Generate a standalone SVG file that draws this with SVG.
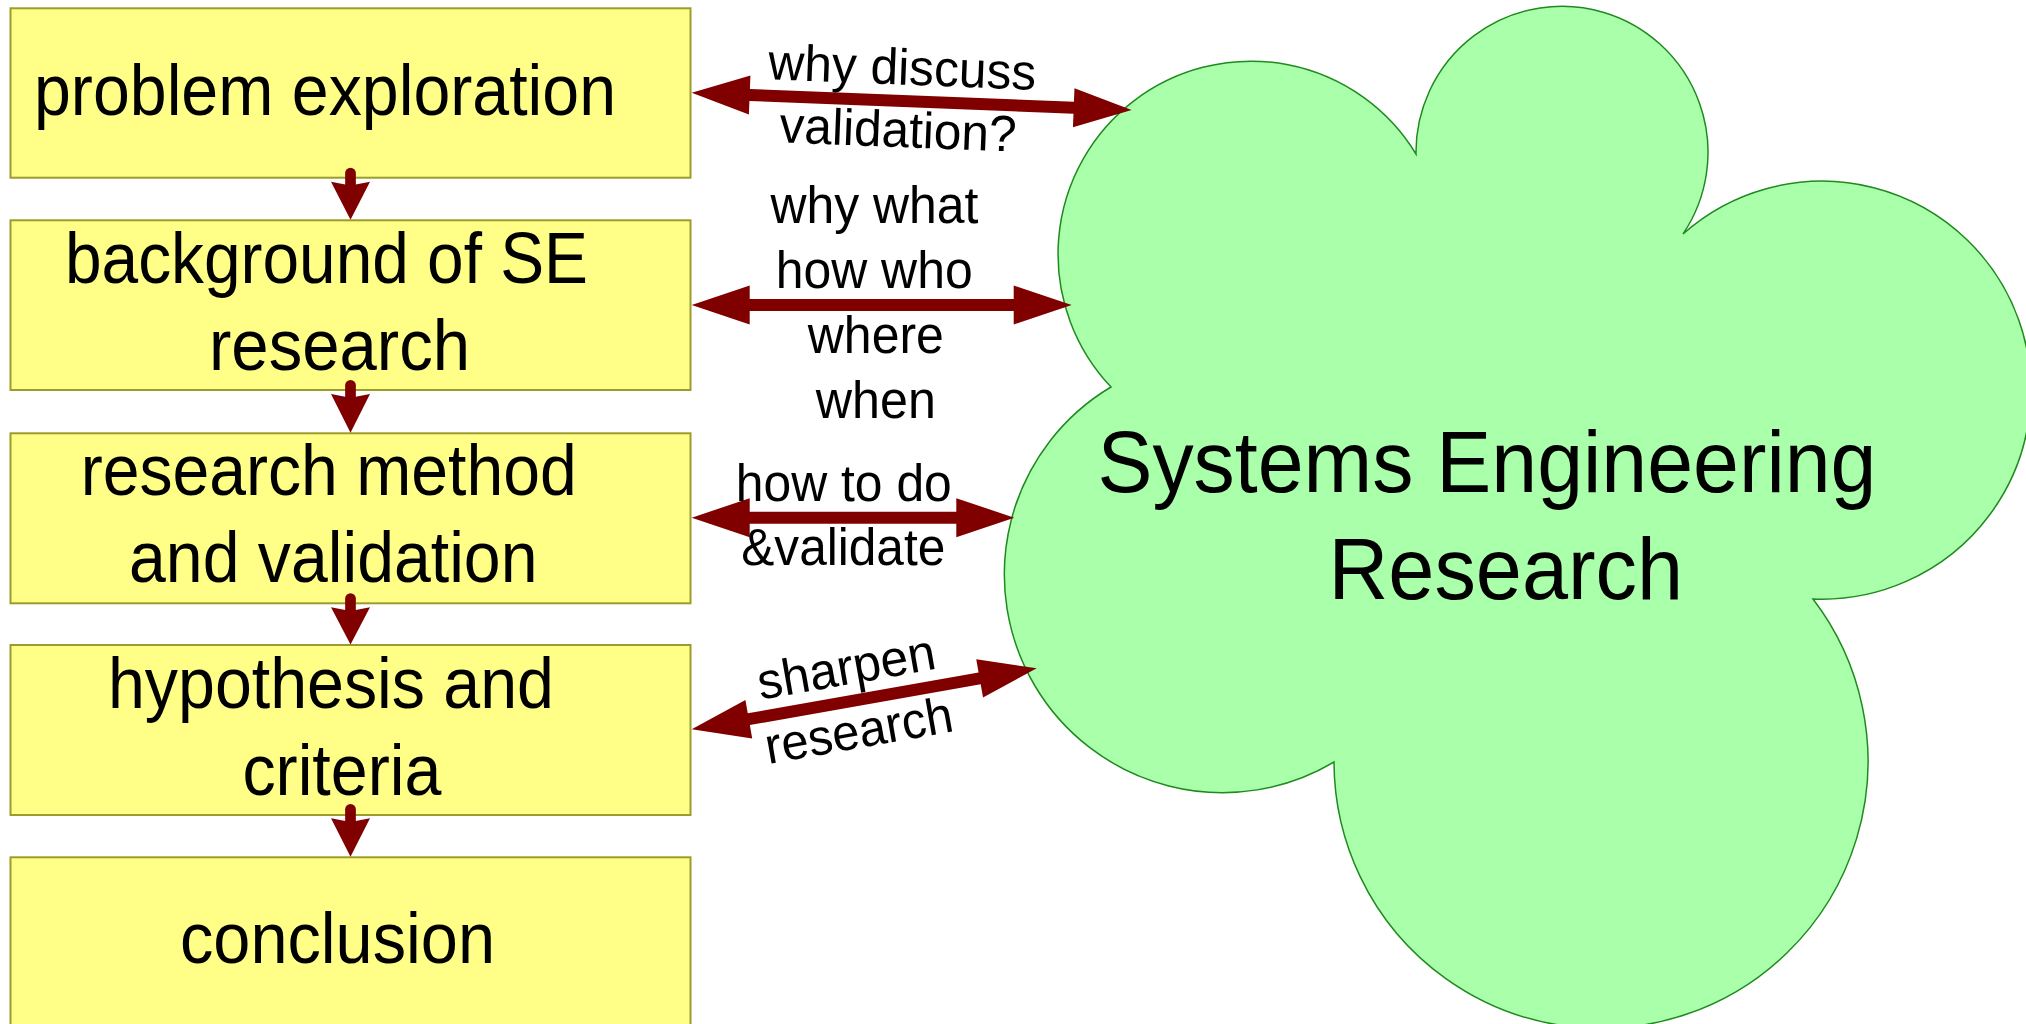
<svg xmlns="http://www.w3.org/2000/svg" width="2026" height="1024" viewBox="0 0 2026 1024">
<style>
.box{fill:#ffff88;stroke:#9c9c2c;stroke-width:2}
.bt{font-family:"Liberation Sans",Arial,sans-serif;font-size:72px;fill:#000}
.ct{font-family:"Liberation Sans",Arial,sans-serif;font-size:88px;fill:#000}
.lt{font-family:"Liberation Sans",Arial,sans-serif;font-size:51px;fill:#000;text-anchor:middle}
.arr{fill:#800000}
.shaft{stroke:#800000;stroke-width:10.7;stroke-linecap:round}
.cloud{fill:#aaffaa;stroke:#1f8a1f;stroke-width:1.5}
</style>
<rect width="2026" height="1024" fill="#ffffff"/>
<g id="cloud">
<path class="cloud" d="M1111,387 A193,193 0 1 1 1416,154 A146,146 0 1 1 1683,234 A209,209 0 1 1 1813,599 A267,267 0 1 1 1334,762 A218,218 0 0 1 1111,387 Z"/>
<text class="ct" x="1097.4" y="492" textLength="779" lengthAdjust="spacingAndGlyphs">Systems Engineering</text>
<text class="ct" x="1328.5" y="598.8" textLength="354.6" lengthAdjust="spacingAndGlyphs">Research</text>
</g>
<g id="box1">
<rect class="box" x="10.5" y="8.3" width="680" height="169.4"/>
<text class="bt" x="34" y="115" textLength="582" lengthAdjust="spacingAndGlyphs">problem exploration</text>
</g>
<g id="box2">
<rect class="box" x="10.5" y="220.3" width="680" height="169.7"/>
<text class="bt" x="65" y="283.3" textLength="523" lengthAdjust="spacingAndGlyphs">background of SE</text>
<text class="bt" x="209" y="370" textLength="261" lengthAdjust="spacingAndGlyphs">research</text>
</g>
<g id="box3">
<rect class="box" x="10.5" y="433.3" width="680" height="170"/>
<text class="bt" x="80.7" y="495.3" textLength="496" lengthAdjust="spacingAndGlyphs">research method</text>
<text class="bt" x="129" y="582" textLength="408.5" lengthAdjust="spacingAndGlyphs">and validation</text>
</g>
<g id="box4">
<rect class="box" x="10.5" y="645" width="680" height="170"/>
<text class="bt" x="108" y="708.3" textLength="446" lengthAdjust="spacingAndGlyphs">hypothesis and</text>
<text class="bt" x="242.4" y="794.5" textLength="199" lengthAdjust="spacingAndGlyphs">criteria</text>
</g>
<g id="box5">
<rect class="box" x="10.5" y="857.3" width="680" height="180"/>
<text class="bt" x="180" y="963.3" textLength="315" lengthAdjust="spacingAndGlyphs">conclusion</text>
</g>
<g id="connectors">
<line class="shaft" x1="350.5" y1="173" x2="350.5" y2="186"/>
<polygon class="arr" points="331,181.7 350.5,185.5 370,181.7 350.5,219.8"/>
<line class="shaft" x1="350.5" y1="385.3" x2="350.5" y2="398.3"/>
<polygon class="arr" points="331,394 350.5,397.8 370,394 350.5,432.8"/>
<line class="shaft" x1="350.5" y1="598.6" x2="350.5" y2="611.6"/>
<polygon class="arr" points="331,607.3 350.5,611.1 370,607.3 350.5,644.5"/>
<line class="shaft" x1="350.5" y1="809.3" x2="350.5" y2="822.3"/>
<polygon class="arr" points="331,818.3 350.5,822.1 370,818.3 350.5,856.8"/>
<polygon class="arr" transform="translate(691.7,92.7) rotate(2.25)" points="0,0 58,-19.5 58,-6 382.3,-6 382.3,-19.5 440.3,0 382.3,19.5 382.3,6 58,6 58,19.5"/>
<polygon class="arr" transform="translate(691.7,305)" points="0,0 58,-19.5 58,-6 322,-6 322,-19.5 380,0 322,19.5 322,6 58,6 58,19.5"/>
<polygon class="arr" transform="translate(691.7,517.7)" points="0,0 58,-19.5 58,-6 264.6,-6 264.6,-19.5 322.6,0 264.6,19.5 264.6,6 58,6 58,19.5"/>
<polygon class="arr" transform="translate(691.7,729.3) rotate(-10.03)" points="0,0 58,-19.5 58,-6 292.4,-6 292.4,-19.5 350.4,0 292.4,19.5 292.4,6 58,6 58,19.5"/>
</g>
<g id="labels">
<text class="lt" x="901.7" y="84.6" transform="rotate(2.25 901.7 84.6)" textLength="268" lengthAdjust="spacingAndGlyphs">why discuss</text>
<text class="lt" x="897.5" y="147" transform="rotate(2.25 897.5 147)" textLength="237" lengthAdjust="spacingAndGlyphs">validation?</text>
<text class="lt" x="874.4" y="223.3" textLength="208" lengthAdjust="spacingAndGlyphs">why what</text>
<text class="lt" x="874.2" y="288.3" textLength="197" lengthAdjust="spacingAndGlyphs">how who</text>
<text class="lt" x="875.8" y="353.3" textLength="136" lengthAdjust="spacingAndGlyphs">where</text>
<text class="lt" x="875.8" y="418.3" textLength="120" lengthAdjust="spacingAndGlyphs">when</text>
<text class="lt" x="843.8" y="500.7" textLength="216" lengthAdjust="spacingAndGlyphs">how to do</text>
<text class="lt" x="843.3" y="565" textLength="204" lengthAdjust="spacingAndGlyphs">&amp;validate</text>
<text class="lt" x="849.2" y="684.2" transform="rotate(-10 849.2 684.2)" textLength="180" lengthAdjust="spacingAndGlyphs">sharpen</text>
<text class="lt" x="861.7" y="747.5" transform="rotate(-10 861.7 747.5)" textLength="190" lengthAdjust="spacingAndGlyphs">research</text>
</g>
</svg>
